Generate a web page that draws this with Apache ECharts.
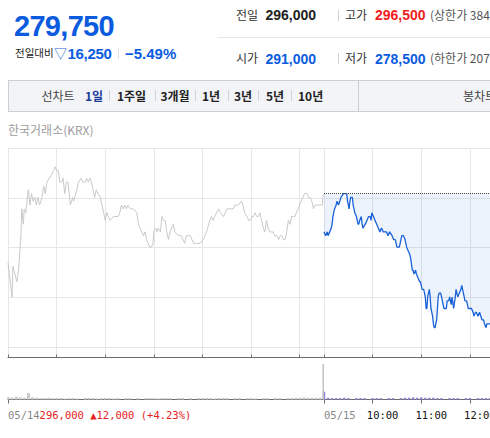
<!DOCTYPE html>
<html><head><meta charset="utf-8">
<script src="https://cdn.jsdelivr.net/npm/echarts@6/dist/echarts.min.js"></script>
<style>
html,body{margin:0;padding:0;width:490px;height:438px;overflow:hidden;background:#fff;}
#chart{position:absolute;left:0;top:0;width:490px;height:438px;}
.t{position:absolute;white-space:nowrap;line-height:20px;height:20px;font-family:"Liberation Sans",Arial,"Noto Sans CJK KR",sans-serif;}
.kr{font-family:"Noto Sans CJK KR",sans-serif;}
.bar{position:absolute;width:1px;background:#d3d3d3;}
</style></head>
<body>
<div id="chart"></div>

<!-- header -->
<div class="t" style="left:14px;top:11px;line-height:30px;height:30px;font-size:29px;font-weight:bold;color:#0b5bdf;letter-spacing:-0.7px;">279,750</div>
<div class="t kr" style="left:15px;top:43px;font-size:10.5px;color:#222;">전일대비</div>
<div class="t kr" style="left:54px;top:43px;font-size:13px;color:#1a5fd6;">▽</div>
<div class="t" style="left:67.5px;top:44px;font-size:15px;font-weight:bold;color:#0b5bdf;letter-spacing:-0.3px;">16,250</div>
<div class="bar" style="left:118px;top:48px;height:11px;background:#e0e0e0;"></div>
<div class="t" style="left:125px;top:44px;font-size:15px;font-weight:bold;color:#0b5bdf;">−5.49%</div>

<div class="t kr" style="left:236px;top:5px;font-size:12px;color:#333;">전일</div>
<div class="t" style="left:265.5px;top:5px;font-size:14px;font-weight:bold;color:#222;">296,000</div>
<div class="bar" style="left:338px;top:10px;height:11px;"></div>
<div class="t kr" style="left:345px;top:5px;font-size:12px;color:#333;">고가</div>
<div class="t" style="left:375px;top:5px;font-size:14px;font-weight:bold;color:#f01e1e;">296,500</div>
<div class="t kr" style="left:430px;top:5px;font-size:12px;color:#555;">(상한가 384,800)</div>
<div style="position:absolute;left:217px;top:37px;width:273px;height:1px;background:#e6e6e6;"></div>
<div class="t kr" style="left:236px;top:48px;font-size:12px;color:#333;">시가</div>
<div class="t" style="left:265.5px;top:48.5px;font-size:14px;font-weight:bold;color:#0b5bdf;">291,000</div>
<div class="bar" style="left:338px;top:53px;height:11px;"></div>
<div class="t kr" style="left:345px;top:48px;font-size:12px;color:#333;">저가</div>
<div class="t" style="left:375px;top:48.5px;font-size:14px;font-weight:bold;color:#0b5bdf;">278,500</div>
<div class="t kr" style="left:430px;top:48px;font-size:12px;color:#555;">(하한가 207,200)</div>

<!-- tab bar -->
<div style="position:absolute;left:8px;top:80px;width:500px;height:32px;box-sizing:border-box;border:1px solid #cfcfcf;background:#f3f4f8;"></div>
<div style="position:absolute;left:358px;top:80px;width:1px;height:32px;background:#cfcfcf;"></div>
<div class="t kr" style="left:41.5px;top:85.5px;font-size:12px;color:#444;">선차트</div>
<div class="t kr" style="left:85px;top:85.5px;font-size:12px;font-weight:bold;color:#1a3b9a;">1일</div>
<div class="bar" style="left:109px;top:90px;height:11px;"></div>
<div class="t kr" style="left:117px;top:85.5px;font-size:12px;font-weight:bold;color:#222;">1주일</div>
<div class="bar" style="left:155px;top:90px;height:11px;"></div>
<div class="t kr" style="left:160.5px;top:85.5px;font-size:12px;font-weight:bold;color:#222;">3개월</div>
<div class="bar" style="left:195px;top:90px;height:11px;"></div>
<div class="t kr" style="left:202px;top:85.5px;font-size:12px;font-weight:bold;color:#222;">1년</div>
<div class="bar" style="left:228px;top:90px;height:11px;"></div>
<div class="t kr" style="left:234px;top:85.5px;font-size:12px;font-weight:bold;color:#222;">3년</div>
<div class="bar" style="left:258px;top:90px;height:11px;"></div>
<div class="t kr" style="left:266px;top:85.5px;font-size:12px;font-weight:bold;color:#222;">5년</div>
<div class="bar" style="left:291px;top:90px;height:11px;"></div>
<div class="t kr" style="left:298px;top:85.5px;font-size:12px;font-weight:bold;color:#222;">10년</div>
<div class="t kr" style="left:463px;top:85.5px;font-size:12px;color:#444;">봉차트</div>

<div class="t kr" style="left:8px;top:120px;font-size:12px;color:#9d9d9d;">한국거래소(KRX)</div>

<script>
// ---------------- data ----------------
const dayLabels = ['05/14', '05/15'];
const prevClose = 296000;             // 05/14 close (reference line)
const prevSummary = '296,000 ▲12,000 (+4.23%)';

// 05/14 intraday: minute index from 09:00, price
const prevIdx = [0,5,6,11,13,16,17,19,20,22,25,27,29,31,33,35,37,39,42,44,46,48,51,54,56,58,60,62,64,66,68,70,72,74,77,80,81,85,87,90,92,95,97,99,101,103,105,107,109,111,114,116,118,120,122,124,126,130,132,136,138,140,142,144,146,148,151,155,159,161,163,165,167,169,171,173,175,177,179,180,182,184,185,188,190,192,194,196,198,200,204,206,210,214,218,220,225,227,229,233,237,241,243,245,249,251,253,255,260,262,266,270,274,278,280,284,288,290,292,295,297,299,301,303,305,307,309,311,313,315,317,319,321,323,325,327,329,332,334,336,338,340,342,344,346,348,350,352,354,356,358,360,362,364,366,369,371,373,375,377,379,383,387,388,389];
const prevPrice = [287000,282500,286500,284500,286000,290500,294000,292000,294000,293500,296500,294500,296000,295000,295500,294500,295500,294500,295500,297000,296000,297500,298000,298500,299000,299500,299000,299000,297500,297500,298000,296000,297500,297500,294500,295500,295000,296500,297500,298000,297500,297500,298000,297500,298000,297500,296500,295500,296500,296000,295500,294500,293500,292500,293500,293000,292500,293000,293000,293000,293500,294500,294000,294500,294000,294500,294000,294000,293500,292000,291500,291000,290500,291000,290000,289500,289000,289000,289500,291000,291500,291000,291500,291000,293000,292500,292500,291000,290000,291000,292000,291000,290500,290500,289500,290500,290500,290000,289500,289500,289500,290000,290500,291000,292500,293000,292500,293000,294000,293500,293000,294000,294000,294000,294500,294500,295000,294500,293500,293000,292500,292500,293000,293000,293500,293000,293000,293500,292500,291500,291000,292500,291500,291000,291000,291000,290500,290500,290000,290500,290500,290000,290000,291000,292500,292000,293000,293000,293000,293500,294000,294500,295000,295500,296000,296000,295500,295500,295000,294000,294500,294500,294500,294500,296000];

// 05/15 intraday: minute index (continuing after 05/14), price
const todayIdx = [390,392,394,395,397,399,400,401,402,403,405,406,408,411,414,416,418,419,421,422,423,425,426,428,430,432,433,434,436,437,438,441,443,445,447,448,449,451,453,455,457,459,461,463,465,467,469,471,474,476,478,480,482,483,485,486,488,490,492,494,496,497,499,500,501,503,504,506,508,509,511,513,515,516,517,518,520,521,522,524,525,526,527,529,530,531,532,534,535,536,538,539,541,542,544,545,547,548,550,552,553,554,555,557,559,560,562,563,564,566,568,570,572,574,575,577,578,580,582,585,587,588,590,591,593,595];
const todayPrice = [291000,290500,291000,290500,291000,291500,292000,293000,293500,294000,294500,295000,294500,295500,296000,296000,296000,295000,294000,295000,295500,295500,294500,293500,293000,292000,292000,292500,293000,292000,291500,292000,292500,293000,293000,292500,293500,293000,292500,292000,291500,291000,291500,291000,291000,291000,290500,291000,290500,290000,290000,289000,289000,289000,290000,290500,290500,290000,289000,288500,288000,287500,286000,286000,285500,286000,285500,285000,284500,284500,283500,283500,282500,281000,281000,282500,283500,282500,281000,280000,279000,278500,278500,279500,281000,282500,283000,283000,282500,282000,281000,281000,281000,282000,282000,282500,281500,282500,281000,282500,283500,283000,282500,283000,283500,284000,283000,282500,282000,282000,281000,281000,281000,280500,280000,280500,280500,280000,280500,279500,279500,279000,278500,279000,279000,279000];

// volume (relative), every 5 minutes
const prevVolume = [7,5,8,6,5,18,6,5,4,4,5,4,4,4,3,4,4,3,0,4,4,4,3,4,4,4,3,4,0,4,4,0,4,0,4,4,4,3,4,4,4,0,4,4,0,4,0,4,4,4,4,3,4,4,4,0,4,4,0,4,4,3,0,4,4,0,4,4,0,4,4,5,5,6,5,5,5,5];
const closeAuctionVolume = 100;  // 05/14 closing auction
const todayVolume = [22,5,4,4,4,5,4,0,4,4,4,0,4,4,4,0,4,4,0,4,5,5,6,5,6,5,5,5,4,4,0,4,4,4,0,4,4,0,4,4,4,4];

// ---------------- build ----------------
const cats = [];
for (let d = 0; d < 2; d++) {
  for (let m = 0; m < 390; m++) {
    const h = 9 + Math.floor(m / 60), mm = m % 60;
    cats.push(dayLabels[d] + ' ' + String(h).padStart(2, '0') + ':' + String(mm).padStart(2, '0'));
  }
}
const N = cats.length;
const prevData = prevIdx.map((i, k) => [i, prevPrice[k]]);
const todayData = todayIdx.map((i, k) => [i, todayPrice[k]]);
const prevVolData = prevVolume.map((v, k) => [k * 5, v]);
const todayVolData = todayVolume.map((v, k) => [390 + k * 5, v]);

const isGridTick = (i) => (i < 390 ? i % 60 === 0 : (i - 390) % 60 === 0);
const isVolTick = (i) => i === 0 || (i >= 390 && (i - 390) % 60 === 0);
const mono = '"DejaVu Sans Mono","Liberation Mono",monospace';

const chart = echarts.init(document.getElementById('chart'), null, { renderer: 'svg' });
chart.setOption({
  animation: false,
  textStyle: { fontFamily: mono },
  grid: [
    { left: 8, top: 148, width: 631.2, height: 209.5, outerBoundsMode: 'none', containLabel: false },
    { left: 8, top: 364, width: 631.2, height: 35.5, outerBoundsMode: 'none', containLabel: false }
  ],
  xAxis: [
    { type: 'category', gridIndex: 0, position: 'bottom', data: cats, boundaryGap: false,
      axisLine: { onZero: false, lineStyle: { color: '#6b6b6b', width: 1 } },
      axisTick: { show: true, inside: true, length: 3, interval: isGridTick, lineStyle: { color: '#777' } },
      axisLabel: { show: false },
      splitLine: { show: true, interval: isGridTick, lineStyle: { color: '#e6e6e6', width: 1 } } },
    { type: 'category', gridIndex: 1, position: 'bottom', data: cats, boundaryGap: false,
      axisLine: { onZero: false, lineStyle: { color: '#6b6b6b', width: 1 } },
      axisTick: { show: true, length: 4, interval: isVolTick, lineStyle: { color: '#6b6b6b' } },
      axisLabel: { show: true, interval: (i) => i === 0 || i === 390, align: 'left', margin: 10,
        formatter: (v, i) => i === 0 ? '{d|' + dayLabels[0] + '}{r|' + prevSummary + '}' : '{d|' + dayLabels[1] + '}',
        rich: {
          d: { color: '#888', fontFamily: mono, fontSize: 10.5 },
          r: { color: '#e52222', fontFamily: mono, fontSize: 10.5 }
        } },
      splitLine: { show: false } },
    { type: 'category', gridIndex: 1, position: 'bottom', offset: 0, data: cats, boundaryGap: false,
      axisLine: { show: false, onZero: false }, axisTick: { show: false },
      axisLabel: { show: true, interval: (i) => i > 390 && (i - 390) % 60 === 0, margin: 10,
        align: 'center', padding: [0, 0, 0, 20], color: '#111', fontFamily: mono, fontSize: 10.5,
        formatter: (v) => v.slice(6) },
      splitLine: { show: false } },
    { type: 'category', gridIndex: 1, position: 'bottom', offset: 0, data: cats, boundaryGap: false, show: false,
      axisLine: { onZero: false } }
  ],
  yAxis: [
    { type: 'value', gridIndex: 0, min: 274600, max: 301950, show: false },
    { type: 'value', gridIndex: 0, min: 0, max: 4.211, interval: 1, inverse: true,
      axisLine: { show: false }, axisTick: { show: false }, axisLabel: { show: false },
      splitLine: { show: true, lineStyle: { color: '#e6e6e6', width: 1 } } },
    { type: 'value', gridIndex: 1, min: 0, max: 100, show: false }
  ],
  series: [
    { type: 'line', xAxisIndex: 0, yAxisIndex: 0, data: prevData, symbol: 'none',
      lineStyle: { color: '#c8c9cd', width: 1 }, z: 2 },
    { type: 'line', xAxisIndex: 0, yAxisIndex: 0, data: todayData, symbol: 'none',
      lineStyle: { color: '#1a62d8', width: 1.3 },
      areaStyle: { color: 'rgba(30,100,220,0.11)', origin: prevClose }, z: 3,
      markLine: { silent: true, symbol: ['none', 'none'], label: { show: false },
        lineStyle: { type: 'dotted', color: '#444', width: 1 },
        data: [[{ coord: [cats[390], prevClose] }, { coord: [cats[N - 1], prevClose] }]] } },
    { type: 'bar', xAxisIndex: 1, yAxisIndex: 2, data: prevVolData, barWidth: 3, barGap: '-100%',
      itemStyle: { color: '#cbcbcb' } },
    { type: 'bar', xAxisIndex: 1, yAxisIndex: 2, data: todayVolData, barWidth: 2.5, barGap: '-100%',
      itemStyle: { color: '#9a86d6' } },
    { type: 'bar', xAxisIndex: 3, yAxisIndex: 2, data: [[389, closeAuctionVolume]], barWidth: 1.5,
      itemStyle: { color: '#c2c2c2' } }
  ]
});
</script>
</body></html>
